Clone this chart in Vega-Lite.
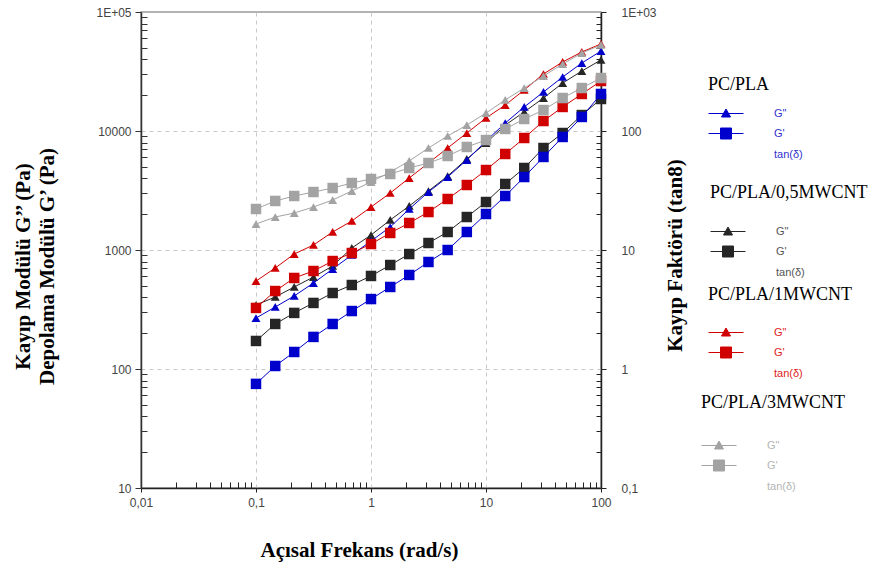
{
  "$schema": "https://vega.github.io/schema/vega-lite/v6.json",
  "width": 460,
  "height": 476,
  "autosize": {"type": "none"},
  "padding": {"left": 141, "top": 12, "right": 272, "bottom": 82},
  "background": "white",
  "data": {"values": [
    {"m":"PC/PLA","s":"G\"","f":0.1,"v":268},{"m":"PC/PLA","s":"G\"","f":0.147,"v":332},{"m":"PC/PLA","s":"G\"","f":0.215,"v":411},{"m":"PC/PLA","s":"G\"","f":0.316,"v":528},{"m":"PC/PLA","s":"G\"","f":0.464,"v":692},{"m":"PC/PLA","s":"G\"","f":0.681,"v":908},{"m":"PC/PLA","s":"G\"","f":1,"v":1190},{"m":"PC/PLA","s":"G\"","f":1.47,"v":1560},{"m":"PC/PLA","s":"G\"","f":2.15,"v":2211},{"m":"PC/PLA","s":"G\"","f":3.16,"v":3071},{"m":"PC/PLA","s":"G\"","f":4.64,"v":4105},{"m":"PC/PLA","s":"G\"","f":6.81,"v":5705},{"m":"PC/PLA","s":"G\"","f":10,"v":8241},{"m":"PC/PLA","s":"G\"","f":14.7,"v":11670},{"m":"PC/PLA","s":"G\"","f":21.5,"v":15920},{"m":"PC/PLA","s":"G\"","f":31.6,"v":21270},{"m":"PC/PLA","s":"G\"","f":46.4,"v":28430},{"m":"PC/PLA","s":"G\"","f":68.1,"v":37250},{"m":"PC/PLA","s":"G\"","f":100,"v":46960},
    {"m":"PC/PLA","s":"G'","f":0.1,"v":75},{"m":"PC/PLA","s":"G'","f":0.147,"v":106},{"m":"PC/PLA","s":"G'","f":0.215,"v":139},{"m":"PC/PLA","s":"G'","f":0.316,"v":186},{"m":"PC/PLA","s":"G'","f":0.464,"v":239},{"m":"PC/PLA","s":"G'","f":0.681,"v":307},{"m":"PC/PLA","s":"G'","f":1,"v":387},{"m":"PC/PLA","s":"G'","f":1.47,"v":489},{"m":"PC/PLA","s":"G'","f":2.15,"v":617},{"m":"PC/PLA","s":"G'","f":3.16,"v":793},{"m":"PC/PLA","s":"G'","f":4.64,"v":1000},{"m":"PC/PLA","s":"G'","f":6.81,"v":1417},{"m":"PC/PLA","s":"G'","f":10,"v":2007},{"m":"PC/PLA","s":"G'","f":14.7,"v":2843},{"m":"PC/PLA","s":"G'","f":21.5,"v":4105},{"m":"PC/PLA","s":"G'","f":31.6,"v":6051},{"m":"PC/PLA","s":"G'","f":46.4,"v":8907},{"m":"PC/PLA","s":"G'","f":68.1,"v":13120},{"m":"PC/PLA","s":"G'","f":100,"v":20470},
    {"m":"PC/PLA/0,5MWCNT","s":"G\"","f":0.1,"v":345},{"m":"PC/PLA/0,5MWCNT","s":"G\"","f":0.147,"v":403},{"m":"PC/PLA/0,5MWCNT","s":"G\"","f":0.215,"v":489},{"m":"PC/PLA/0,5MWCNT","s":"G\"","f":0.316,"v":593},{"m":"PC/PLA/0,5MWCNT","s":"G\"","f":0.464,"v":734},{"m":"PC/PLA/0,5MWCNT","s":"G\"","f":0.681,"v":1040},{"m":"PC/PLA/0,5MWCNT","s":"G\"","f":1,"v":1336},{"m":"PC/PLA/0,5MWCNT","s":"G\"","f":1.47,"v":1787},{"m":"PC/PLA/0,5MWCNT","s":"G\"","f":2.15,"v":2344},{"m":"PC/PLA/0,5MWCNT","s":"G\"","f":3.16,"v":3131},{"m":"PC/PLA/0,5MWCNT","s":"G\"","f":4.64,"v":4186},{"m":"PC/PLA/0,5MWCNT","s":"G\"","f":6.81,"v":5821},{"m":"PC/PLA/0,5MWCNT","s":"G\"","f":10,"v":7925},{"m":"PC/PLA/0,5MWCNT","s":"G\"","f":14.7,"v":11220},{"m":"PC/PLA/0,5MWCNT","s":"G\"","f":21.5,"v":14450},{"m":"PC/PLA/0,5MWCNT","s":"G\"","f":31.6,"v":18930},{"m":"PC/PLA/0,5MWCNT","s":"G\"","f":46.4,"v":25290},{"m":"PC/PLA/0,5MWCNT","s":"G\"","f":68.1,"v":31900},{"m":"PC/PLA/0,5MWCNT","s":"G\"","f":100,"v":39540},
    {"m":"PC/PLA/0,5MWCNT","s":"G'","f":0.1,"v":172},{"m":"PC/PLA/0,5MWCNT","s":"G'","f":0.147,"v":239},{"m":"PC/PLA/0,5MWCNT","s":"G'","f":0.215,"v":296},{"m":"PC/PLA/0,5MWCNT","s":"G'","f":0.316,"v":359},{"m":"PC/PLA/0,5MWCNT","s":"G'","f":0.464,"v":435},{"m":"PC/PLA/0,5MWCNT","s":"G'","f":0.681,"v":508},{"m":"PC/PLA/0,5MWCNT","s":"G'","f":1,"v":605},{"m":"PC/PLA/0,5MWCNT","s":"G'","f":1.47,"v":748},{"m":"PC/PLA/0,5MWCNT","s":"G'","f":2.15,"v":925},{"m":"PC/PLA/0,5MWCNT","s":"G'","f":3.16,"v":1145},{"m":"PC/PLA/0,5MWCNT","s":"G'","f":4.64,"v":1417},{"m":"PC/PLA/0,5MWCNT","s":"G'","f":6.81,"v":1893},{"m":"PC/PLA/0,5MWCNT","s":"G'","f":10,"v":2531},{"m":"PC/PLA/0,5MWCNT","s":"G'","f":14.7,"v":3588},{"m":"PC/PLA/0,5MWCNT","s":"G'","f":21.5,"v":4888},{"m":"PC/PLA/0,5MWCNT","s":"G'","f":31.6,"v":7197},{"m":"PC/PLA/0,5MWCNT","s":"G'","f":46.4,"v":9620},{"m":"PC/PLA/0,5MWCNT","s":"G'","f":68.1,"v":13620},{"m":"PC/PLA/0,5MWCNT","s":"G'","f":100,"v":18580},
    {"m":"PC/PLA/1MWCNT","s":"G\"","f":0.1,"v":548},{"m":"PC/PLA/1MWCNT","s":"G\"","f":0.147,"v":706},{"m":"PC/PLA/1MWCNT","s":"G\"","f":0.215,"v":925},{"m":"PC/PLA/1MWCNT","s":"G\"","f":0.316,"v":1102},{"m":"PC/PLA/1MWCNT","s":"G\"","f":0.464,"v":1417},{"m":"PC/PLA/1MWCNT","s":"G\"","f":0.681,"v":1753},{"m":"PC/PLA/1MWCNT","s":"G\"","f":1,"v":2297},{"m":"PC/PLA/1MWCNT","s":"G\"","f":1.47,"v":3013},{"m":"PC/PLA/1MWCNT","s":"G\"","f":2.15,"v":4027},{"m":"PC/PLA/1MWCNT","s":"G\"","f":3.16,"v":5383},{"m":"PC/PLA/1MWCNT","s":"G\"","f":4.64,"v":7197},{"m":"PC/PLA/1MWCNT","s":"G\"","f":6.81,"v":9620},{"m":"PC/PLA/1MWCNT","s":"G\"","f":10,"v":12860},{"m":"PC/PLA/1MWCNT","s":"G\"","f":14.7,"v":16520},{"m":"PC/PLA/1MWCNT","s":"G\"","f":21.5,"v":22120},{"m":"PC/PLA/1MWCNT","s":"G\"","f":31.6,"v":30130},{"m":"PC/PLA/1MWCNT","s":"G\"","f":46.4,"v":38020},{"m":"PC/PLA/1MWCNT","s":"G\"","f":68.1,"v":46150},{"m":"PC/PLA/1MWCNT","s":"G\"","f":100,"v":53860},
    {"m":"PC/PLA/1MWCNT","s":"G'","f":0.1,"v":326},{"m":"PC/PLA/1MWCNT","s":"G'","f":0.147,"v":452},{"m":"PC/PLA/1MWCNT","s":"G'","f":0.215,"v":582},{"m":"PC/PLA/1MWCNT","s":"G'","f":0.316,"v":666},{"m":"PC/PLA/1MWCNT","s":"G'","f":0.464,"v":808},{"m":"PC/PLA/1MWCNT","s":"G'","f":0.681,"v":943},{"m":"PC/PLA/1MWCNT","s":"G'","f":1,"v":1122},{"m":"PC/PLA/1MWCNT","s":"G'","f":1.47,"v":1390},{"m":"PC/PLA/1MWCNT","s":"G'","f":2.15,"v":1687},{"m":"PC/PLA/1MWCNT","s":"G'","f":3.16,"v":2085},{"m":"PC/PLA/1MWCNT","s":"G'","f":4.64,"v":2684},{"m":"PC/PLA/1MWCNT","s":"G'","f":6.81,"v":3517},{"m":"PC/PLA/1MWCNT","s":"G'","f":10,"v":4700},{"m":"PC/PLA/1MWCNT","s":"G'","f":14.7,"v":6411},{"m":"PC/PLA/1MWCNT","s":"G'","f":21.5,"v":8734},{"m":"PC/PLA/1MWCNT","s":"G'","f":31.6,"v":12130},{"m":"PC/PLA/1MWCNT","s":"G'","f":46.4,"v":15920},{"m":"PC/PLA/1MWCNT","s":"G'","f":68.1,"v":20470},{"m":"PC/PLA/1MWCNT","s":"G'","f":100,"v":26300},
    {"m":"PC/PLA/3MWCNT","s":"G\"","f":0.1,"v":1653},{"m":"PC/PLA/3MWCNT","s":"G\"","f":0.147,"v":1893},{"m":"PC/PLA/3MWCNT","s":"G\"","f":0.215,"v":2046},{"m":"PC/PLA/3MWCNT","s":"G\"","f":0.316,"v":2297},{"m":"PC/PLA/3MWCNT","s":"G\"","f":0.464,"v":2631},{"m":"PC/PLA/3MWCNT","s":"G\"","f":0.681,"v":3131},{"m":"PC/PLA/3MWCNT","s":"G\"","f":1,"v":3726},{"m":"PC/PLA/3MWCNT","s":"G\"","f":1.47,"v":4520},{"m":"PC/PLA/3MWCNT","s":"G\"","f":2.15,"v":5597},{"m":"PC/PLA/3MWCNT","s":"G\"","f":3.16,"v":7197},{"m":"PC/PLA/3MWCNT","s":"G\"","f":4.64,"v":9078},{"m":"PC/PLA/3MWCNT","s":"G\"","f":6.81,"v":11220},{"m":"PC/PLA/3MWCNT","s":"G\"","f":10,"v":14160},{"m":"PC/PLA/3MWCNT","s":"G\"","f":14.7,"v":18240},{"m":"PC/PLA/3MWCNT","s":"G\"","f":21.5,"v":22970},{"m":"PC/PLA/3MWCNT","s":"G\"","f":31.6,"v":28980},{"m":"PC/PLA/3MWCNT","s":"G\"","f":46.4,"v":36560},{"m":"PC/PLA/3MWCNT","s":"G\"","f":68.1,"v":45200},{"m":"PC/PLA/3MWCNT","s":"G\"","f":100,"v":52850},
    {"m":"PC/PLA/3MWCNT","s":"G'","f":0.1,"v":2211},{"m":"PC/PLA/3MWCNT","s":"G'","f":0.147,"v":2582},{"m":"PC/PLA/3MWCNT","s":"G'","f":0.215,"v":2843},{"m":"PC/PLA/3MWCNT","s":"G'","f":0.316,"v":3071},{"m":"PC/PLA/3MWCNT","s":"G'","f":0.464,"v":3318},{"m":"PC/PLA/3MWCNT","s":"G'","f":0.681,"v":3656},{"m":"PC/PLA/3MWCNT","s":"G'","f":1,"v":3953},{"m":"PC/PLA/3MWCNT","s":"G'","f":1.47,"v":4352},{"m":"PC/PLA/3MWCNT","s":"G'","f":2.15,"v":4888},{"m":"PC/PLA/3MWCNT","s":"G'","f":3.16,"v":5383},{"m":"PC/PLA/3MWCNT","s":"G'","f":4.64,"v":6166},{"m":"PC/PLA/3MWCNT","s":"G'","f":6.81,"v":7341},{"m":"PC/PLA/3MWCNT","s":"G'","f":10,"v":8397},{"m":"PC/PLA/3MWCNT","s":"G'","f":14.7,"v":10400},{"m":"PC/PLA/3MWCNT","s":"G'","f":21.5,"v":12610},{"m":"PC/PLA/3MWCNT","s":"G'","f":31.6,"v":15000},{"m":"PC/PLA/3MWCNT","s":"G'","f":46.4,"v":18930},{"m":"PC/PLA/3MWCNT","s":"G'","f":68.1,"v":22970},{"m":"PC/PLA/3MWCNT","s":"G'","f":100,"v":27870}
  ]},
  "layer": [
    {
      "encoding": {
        "x": {"field": "f", "type": "quantitative", "scale": {"type": "log", "domain": [0.01, 100]},
          "axis": {
            "title": "Açısal Frekans (rad/s)", "titleFont": "Liberation Serif", "titleFontSize": 21, "titleFontWeight": "bold", "titleColor": "black",
            "titleX": 218, "titleY": 62, "titleAlign": "center", "titleBaseline": "middle",
            "values": [0.01,0.02,0.03,0.04,0.05,0.06,0.07,0.08,0.09,0.1,0.2,0.3,0.4,0.5,0.6,0.7,0.8,0.9,1,2,3,4,5,6,7,8,9,10,20,30,40,50,60,70,80,90,100],
            "labelExpr": "datum.value == 0.01 ? '0,01' : datum.value == 0.1 ? '0,1' : datum.value == 1 ? '1' : datum.value == 10 ? '10' : datum.value == 100 ? '100' : ''",
            "labelFlush": false, "labelOverlap": false, "labelBound": false,
            "labelFont": "Liberation Sans", "labelFontSize": 12, "labelColor": "#444", "labelPadding": 5,
            "grid": true, "gridDash": [4, 4], "gridColor": "#c8c8c8",
            "gridOpacity": {"condition": {"test": "datum.value == 0.1 || datum.value == 1 || datum.value == 10", "value": 1}, "value": 0},
            "tickSize": {"condition": {"test": "datum.value == 0.01 || datum.value == 0.1 || datum.value == 1 || datum.value == 10 || datum.value == 100", "value": 4}, "value": -6},
            "tickColor": "#222", "domainColor": "#222", "domainWidth": 1.5
          }
        },
        "y": {"field": "v", "type": "quantitative", "scale": {"type": "log", "domain": [10, 100000]},
          "axis": {
            "title": ["Kayıp Modülü G’’ (Pa)", "Depolama Modülü G’ (Pa)"], "titleFont": "Liberation Serif", "titleFontSize": 21, "titleFontWeight": "bold", "titleColor": "black",
            "titleLineHeight": 24, "titleAngle": -90, "titleX": -118, "titleY": 254, "titleAlign": "center", "titleBaseline": "middle",
            "values": [10,20,30,40,50,60,70,80,90,100,200,300,400,500,600,700,800,900,1000,2000,3000,4000,5000,6000,7000,8000,9000,10000,20000,30000,40000,50000,60000,70000,80000,90000,100000],
            "labelExpr": "datum.value == 100000 ? '1E+05' : datum.value == 10000 ? '10000' : datum.value == 1000 ? '1000' : datum.value == 100 ? '100' : datum.value == 10 ? '10' : ''",
            "labelOverlap": false, "labelBound": false,
            "labelFont": "Liberation Sans", "labelFontSize": 12, "labelColor": "#444", "labelPadding": 4,
            "grid": true, "gridDash": [4, 4], "gridColor": "#c8c8c8",
            "gridOpacity": {"condition": {"test": "datum.value == 100 || datum.value == 1000 || datum.value == 10000", "value": 1}, "value": 0},
            "tickSize": {"condition": {"test": "datum.value == 10 || datum.value == 100 || datum.value == 1000 || datum.value == 10000 || datum.value == 100000", "value": 6}, "value": -6},
            "tickColor": "#333", "domainColor": "#333", "domainWidth": 1.5
          }
        }
      },
      "layer": [
        {
          "transform": [{"filter": "datum.m == 'PC/PLA/0,5MWCNT'"}],
          "encoding": {
            "color": {"field": "s", "type": "nominal",
              "scale": {"domain": ["G\"", "G'", "tan(δ)"], "range": ["#262626", "#262626", "#262626"]},
              "legend": {"orient": "none", "legendX": 569, "legendY": 172, "title": "PC/PLA/0,5MWCNT", "titlePadding": 24, "titleFontWeight": 400, "labelColor": "#555",
                "encode": {"symbols": {"update": {
                  "shape": {"signal": "datum.value == 'tan(δ)' ? 'M0,0' : indexof(datum.value, '\"') >= 0 ? 'M-1,0H6M2.5,-0.9L3.4,0.7H1.6Z' : 'M-1,0H6M1.4,-1.1H3.6V1.1H1.4Z'"},
                  "fill": {"value": "#262626"}, "stroke": {"value": "#262626"}, "strokeWidth": {"value": 1}, "size": {"value": 100}, "opacity": {"value": 1}}}}}
            }
          },
          "layer": [
            {"mark": {"type": "line", "strokeWidth": 1}, "encoding": {}},
            {"mark": {"type": "point", "filled": true, "opacity": 1},
             "encoding": {
               "shape": {"field": "s", "type": "nominal", "scale": {"domain": ["G\"", "G'"], "range": ["triangle-up", "square"]}, "legend": null},
               "size": {"field": "s", "type": "ordinal", "scale": {"domain": ["G\"", "G'"], "range": [80, 110]}, "legend": null}
             }}
          ]
        },
        {
          "transform": [{"filter": "datum.m == 'PC/PLA'"}],
          "encoding": {
            "color": {"field": "s", "type": "nominal",
              "scale": {"domain": ["G\"", "G'", "tan(δ)"], "range": ["#0000cc", "#0000cc", "#0000cc"]},
              "legend": {"orient": "none", "legendX": 567, "legendY": 64, "title": "PC/PLA", "titlePadding": 14, "titleFontWeight": 400, "labelColor": "#3333cc",
                "encode": {"symbols": {"update": {
                  "shape": {"signal": "datum.value == 'tan(δ)' ? 'M0,0' : indexof(datum.value, '\"') >= 0 ? 'M-1,0H6M2.5,-0.9L3.4,0.7H1.6Z' : 'M-1,0H6M1.4,-1.1H3.6V1.1H1.4Z'"},
                  "fill": {"value": "#0000cc"}, "stroke": {"value": "#0000cc"}, "strokeWidth": {"value": 1}, "size": {"value": 100}, "opacity": {"value": 1}}}}}
            }
          },
          "layer": [
            {"mark": {"type": "line", "strokeWidth": 1}, "encoding": {}},
            {"mark": {"type": "point", "filled": true, "opacity": 1},
             "encoding": {
               "shape": {"field": "s", "type": "nominal", "scale": {"domain": ["G\"", "G'"], "range": ["triangle-up", "square"]}, "legend": null},
               "size": {"field": "s", "type": "ordinal", "scale": {"domain": ["G\"", "G'"], "range": [80, 110]}, "legend": null}
             }}
          ]
        },
        {
          "transform": [{"filter": "datum.m == 'PC/PLA/1MWCNT'"}],
          "encoding": {
            "color": {"field": "s", "type": "nominal",
              "scale": {"domain": ["G\"", "G'", "tan(δ)"], "range": ["#d10000", "#d10000", "#d10000"]},
              "legend": {"orient": "none", "legendX": 567, "legendY": 274, "title": "PC/PLA/1MWCNT", "titlePadding": 23, "titleFontWeight": 400, "labelColor": "#dd2222",
                "encode": {"symbols": {"update": {
                  "shape": {"signal": "datum.value == 'tan(δ)' ? 'M0,0' : indexof(datum.value, '\"') >= 0 ? 'M-1,0H6M2.5,-0.9L3.4,0.7H1.6Z' : 'M-1,0H6M1.4,-1.1H3.6V1.1H1.4Z'"},
                  "fill": {"value": "#d10000"}, "stroke": {"value": "#d10000"}, "strokeWidth": {"value": 1}, "size": {"value": 100}, "opacity": {"value": 1}}}}}
            }
          },
          "layer": [
            {"mark": {"type": "line", "strokeWidth": 1}, "encoding": {}},
            {"mark": {"type": "point", "filled": true, "opacity": 1},
             "encoding": {
               "shape": {"field": "s", "type": "nominal", "scale": {"domain": ["G\"", "G'"], "range": ["triangle-up", "square"]}, "legend": null},
               "size": {"field": "s", "type": "ordinal", "scale": {"domain": ["G\"", "G'"], "range": [80, 110]}, "legend": null}
             }}
          ]
        },
        {
          "transform": [{"filter": "datum.m == 'PC/PLA/3MWCNT'"}],
          "encoding": {
            "color": {"field": "s", "type": "nominal",
              "scale": {"domain": ["G\"", "G'", "tan(δ)"], "range": ["#a3a3a3", "#a3a3a3", "#a3a3a3"]},
              "legend": {"orient": "none", "legendX": 560, "legendY": 382, "title": "PC/PLA/3MWCNT", "titlePadding": 28, "titleFontWeight": 400, "labelColor": "#b5b5b5",
                "encode": {"symbols": {"update": {
                  "shape": {"signal": "datum.value == 'tan(δ)' ? 'M0,0' : indexof(datum.value, '\"') >= 0 ? 'M-1,0H6M2.5,-0.9L3.4,0.7H1.6Z' : 'M-1,0H6M1.4,-1.1H3.6V1.1H1.4Z'"},
                  "fill": {"value": "#a8a8a8"}, "stroke": {"value": "#b5b5b5"}, "strokeWidth": {"value": 1}, "size": {"value": 100}, "opacity": {"value": 1}}}}}
            }
          },
          "layer": [
            {"mark": {"type": "line", "strokeWidth": 1}, "encoding": {}},
            {"mark": {"type": "point", "filled": true, "opacity": 1},
             "encoding": {
               "shape": {"field": "s", "type": "nominal", "scale": {"domain": ["G\"", "G'"], "range": ["triangle-up", "square"]}, "legend": null},
               "size": {"field": "s", "type": "ordinal", "scale": {"domain": ["G\"", "G'"], "range": [80, 110]}, "legend": null}
             }}
          ]
        }
      ],
      "resolve": {"scale": {"color": "independent"}, "legend": {"color": "independent"}}
    },
    {
      "mark": {"type": "point", "opacity": 0, "clip": true},
      "encoding": {
        "x": {"field": "f", "type": "quantitative", "scale": {"type": "log", "domain": [0.01, 100]}},
        "y": {"field": "v", "type": "quantitative", "scale": {"type": "log", "domain": [0.1, 1000]},
          "axis": {
            "orient": "right",
            "title": "Kayıp Faktörü (tan8)", "titleFont": "Liberation Serif", "titleFontSize": 21, "titleFontWeight": "bold", "titleColor": "black",
            "titleAngle": -90, "titleX": 74, "titleY": 243, "titleAlign": "center", "titleBaseline": "middle",
            "values": [0.1,0.2,0.3,0.4,0.5,0.6,0.7,0.8,0.9,1,2,3,4,5,6,7,8,9,10,20,30,40,50,60,70,80,90,100,200,300,400,500,600,700,800,900,1000],
            "labelExpr": "datum.value == 1000 ? '1E+03' : datum.value == 100 ? '100' : datum.value == 10 ? '10' : datum.value == 1 ? '1' : datum.value == 0.1 ? '0,1' : ''",
            "labelOverlap": false, "labelBound": false,
            "labelFont": "Liberation Sans", "labelFontSize": 12, "labelColor": "#444", "labelPadding": 15,
            "grid": false,
            "tickSize": {"condition": {"test": "datum.value == 0.1 || datum.value == 1 || datum.value == 10 || datum.value == 100 || datum.value == 1000", "value": 5}, "value": -5},
            "tickColor": "#222", "domainColor": "#222", "domainWidth": 1.5
          }
        }
      }
    }
  ],
  "resolve": {"scale": {"y": "independent"}},
  "config": {
    "view": {"stroke": "#999", "strokeWidth": 1.5},
    "legend": {"symbolSize": 100, "labelOffset": 55, "rowPadding": 7, "padding": 0,
      "titleFont": "Liberation Serif", "titleFontSize": 18, "titleFontWeight": 400, "titleColor": "black",
      "labelFont": "Liberation Sans", "labelFontSize": 11, "symbolStrokeWidth": 1}
  }
}
